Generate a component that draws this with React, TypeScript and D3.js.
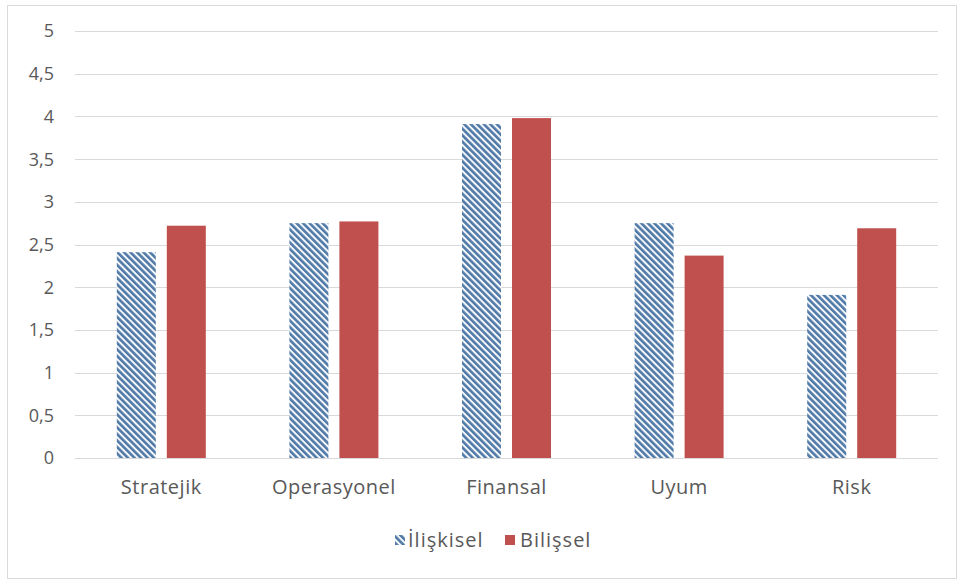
import React from "react";
import * as d3 from "d3";

const categories = ["Stratejik", "Operasyonel", "Finansal", "Uyum", "Risk"];
const seriesNames = ["İlişkisel", "Bilişsel"];
const iliskisel = [2.41, 2.75, 3.91, 2.75, 1.91];
const bilissel = [2.72, 2.77, 3.98, 2.37, 2.69];
const yTicks = [0, 0.5, 1, 1.5, 2, 2.5, 3, 3.5, 4, 4.5, 5];

const W = 958;
const H = 583;
const margin = { left: 75, right: 20, top: 31, bottom: 125 };
const FONT = "'Open Sans', 'Noto Sans', sans-serif";
const TEXT = "#595959";
const RED = "#c0504d";
const BLUE = "#5179a6";

export default function App() {
  const x0 = d3
    .scaleBand<string>()
    .domain(categories)
    .range([margin.left, W - margin.right])
    .padding(0);
  const cw = x0.bandwidth();
  const x1 = d3
    .scaleBand<string>()
    .domain(seriesNames)
    .range([cw / 2 - 44.5, cw / 2 + 44.5])
    .paddingInner(0.22);
  const y = d3.scaleLinear().domain([0, 5]).range([H - margin.bottom, margin.top]);
  const fmt = (v: number) => String(v).replace(".", ",");
  const series = [
    { name: seriesNames[0], values: iliskisel, fill: "url(#hatch)" },
    { name: seriesNames[1], values: bilissel, fill: RED },
  ];

  return (
    <svg
      width={W}
      height={H}
      style={{ position: "absolute", left: 0, top: 0, background: "#fff" }}
      fontFamily={FONT}
    >
      <defs>
        <pattern
          id="hatch"
          patternUnits="userSpaceOnUse"
          width={4.6}
          height={4.6}
          patternTransform="rotate(-45)"
        >
          <rect width={4.6} height={4.6} fill="#f4f8fc" />
          <rect width={2.6} height={4.6} fill={BLUE} />
        </pattern>
      </defs>
      <rect x={7.5} y={5.5} width={949} height={573} fill="#fff" stroke="#d9d9d9" />

      {yTicks.map((t) => (
        <g key={t}>
          <line
            x1={margin.left}
            x2={W - margin.right}
            y1={Math.round(y(t)) + 0.5}
            y2={Math.round(y(t)) + 0.5}
            stroke="#d9d9d9"
            strokeWidth={1}
          />
          <text
            x={54}
            y={y(t)}
            dy="0.36em"
            textAnchor="end"
            fontSize={18}
            fill={TEXT}
          >
            {fmt(t)}
          </text>
        </g>
      ))}

      {series.map((s) =>
        categories.map((c, i) => (
          <rect
            key={s.name + c}
            x={(x0(c) ?? 0) + (x1(s.name) ?? 0)}
            y={y(s.values[i])}
            width={x1.bandwidth()}
            height={y(0) - y(s.values[i])}
            fill={s.fill}
          />
        ))
      )}

      {categories.map((c) => (
        <text
          key={c}
          x={(x0(c) ?? 0) + cw / 2}
          y={494}
          textAnchor="middle"
          fontSize={20}
          letterSpacing={0.5}
          fill={TEXT}
        >
          {c}
        </text>
      ))}

      <g>
        <rect x={395} y={535} width={10} height={10} fill="url(#hatch)" />
        <text x={408} y={547} fontSize={20} letterSpacing={1} fill={TEXT}>
          {seriesNames[0]}
        </text>
        <rect x={505} y={535} width={10} height={10} fill={RED} />
        <text x={520} y={547} fontSize={20} letterSpacing={1} fill={TEXT}>
          {seriesNames[1]}
        </text>
      </g>
    </svg>
  );
}
